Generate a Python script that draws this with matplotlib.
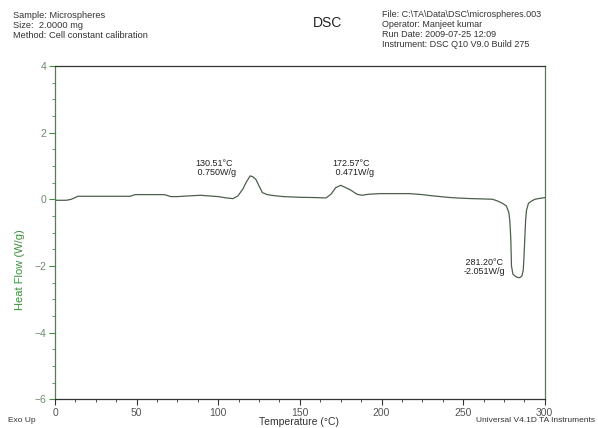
import numpy as np
import matplotlib.pyplot as plt
from matplotlib.ticker import MultipleLocator

plt.rcParams['font.family'] = ['Liberation Sans', 'DejaVu Sans']

# heat flow trace, temperature in °C and heat flow in W/g
temp = [0, 7, 10, 14, 30, 46, 49, 60, 67, 71, 75, 78, 89, 100, 105, 109, 112,
        115, 117, 119.5, 121, 123, 125, 127, 130, 134, 140, 150, 160, 166, 169,
        172, 175, 178, 181, 185, 188, 192, 199, 210, 217, 225, 230, 240, 246,
        255, 262, 268, 271, 274, 276.5, 278, 278.6, 279.2, 279.6, 280.5, 281.7,
        283, 284.7, 286, 286.8, 287.3, 287.8, 288.3, 288.8, 290, 292, 294, 296, 300]
heat_flow = [-0.03, -0.03, 0.0, 0.09, 0.09, 0.09, 0.14, 0.14, 0.14, 0.08, 0.08,
             0.09, 0.12, 0.08, 0.04, 0.02, 0.1, 0.3, 0.5, 0.7, 0.68, 0.6, 0.4,
             0.2, 0.14, 0.11, 0.08, 0.06, 0.05, 0.04, 0.15, 0.35, 0.42, 0.35,
             0.28, 0.15, 0.12, 0.15, 0.17, 0.17, 0.17, 0.14, 0.11, 0.06, 0.04,
             0.02, 0.01, 0.0, -0.05, -0.12, -0.2, -0.4, -0.65, -1.2, -2.0, -2.25,
             -2.3, -2.34, -2.35, -2.3, -2.13, -1.7, -1.13, -0.6, -0.33, -0.12,
             -0.05, 0.0, 0.02, 0.05]

# peak annotations: text position (T, W/g) and the label
peak_pos = [(86, 0.94), (170, 0.94), (250, -2.03)]
peak_text = ["130.51°C\n 0.750W/g", "172.57°C\n 0.471W/g", " 281.20°C\n-2.051W/g"]

header_left = "Sample: Microspheres\nSize:  2.0000 mg\nMethod: Cell constant calibration"
header_right = ("File: C:\\TA\\Data\\DSC\\microspheres.003\nOperator: Manjeet kumar\n"
                "Run Date: 2009-07-25 12:09\nInstrument: DSC Q10 V9.0 Build 275")

green = '#3d8f3d'
tick_grey = '#6b8a6b'

fig = plt.figure(figsize=(5.98, 4.28), dpi=100)
ax = fig.add_axes([0.092, 0.067, 0.819, 0.779])

ax.plot(temp, heat_flow, color='#4b604b', lw=0.9)

ax.set_xlim(0, 300)
ax.set_ylim(-6, 4)
ax.xaxis.set_major_locator(MultipleLocator(50))
ax.xaxis.set_minor_locator(MultipleLocator(12.5))
ax.yaxis.set_major_locator(MultipleLocator(2))
ax.yaxis.set_minor_locator(MultipleLocator(0.5))
ax.tick_params(which='major', length=4, width=0.8, labelsize=7.5, pad=2)
ax.tick_params(which='minor', length=2, width=0.6)
ax.tick_params(axis='y', which='both', colors=green, labelcolor=tick_grey)
ax.tick_params(axis='x', which='both', colors='#333333', labelcolor='#555555')

ax.spines['left'].set_color(green)
ax.spines['right'].set_color(green)
ax.spines['top'].set_color('#333333')
ax.spines['bottom'].set_color('#333333')
for s in ax.spines.values():
    s.set_linewidth(0.9)

for (x, y), txt in zip(peak_pos, peak_text):
    ax.text(x, y, txt, fontsize=6.5, ha='left', va='center', color='#222222',
            linespacing=1.0)

fig.text(0.022, 0.974, header_left, fontsize=6.7, va='top', ha='left',
         color='#333333', linespacing=1.12)
fig.text(0.639, 0.976, header_right, fontsize=6.5, va='top', ha='left',
         color='#333333', linespacing=1.12)
fig.text(0.547, 0.946, "DSC", fontsize=10, va='center', ha='center',
         color='#222222')

fig.text(0.033, 0.37, "Heat Flow (W/g)", fontsize=8, rotation=90,
         va='center', ha='center', color=green)
fig.text(0.5, 0.002, "Temperature (°C)", fontsize=7.5, va='bottom', ha='center',
         color='#333333')
fig.text(0.013, 0.01, "Exo Up", fontsize=6, va='bottom', ha='left', color='#333333')
fig.text(0.995, 0.01, "Universal V4.1D TA Instruments", fontsize=6,
         va='bottom', ha='right', color='#333333')

fig.savefig('out.png', dpi=100)
